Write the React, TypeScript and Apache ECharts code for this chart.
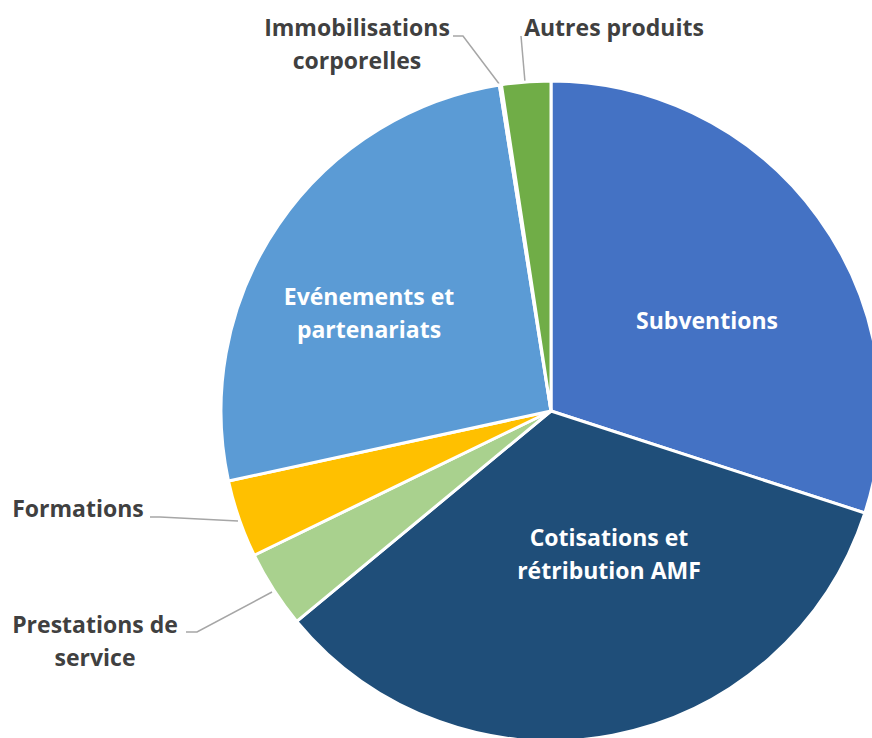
import React, { useEffect, useRef } from "react";
import * as echarts from "echarts";

const categories = [
  "Subventions",
  "Cotisations et rétribution AMF",
  "Prestations de service",
  "Formations",
  "Evénements et partenariats",
  "Immobilisations corporelles",
  "Autres produits",
];
const labelTexts = [
  "Subventions",
  "Cotisations et\nrétribution AMF",
  "Prestations de\nservice",
  "Formations",
  "Evénements et\npartenariats",
  "Immobilisations\ncorporelles",
  "Autres produits",
];
const values = [30.0, 34.0, 3.8, 3.8, 25.9, 0.1, 2.4];
const colors = ["#4472C4", "#1F4E79", "#A9D18E", "#FFC000", "#5B9BD5", "#264478", "#70AD47"];
const inside = [true, true, false, false, true, false, false];

// label layout (pixel positions of label anchors and leader lines)
const layouts: any[] = [
  { x: 707, y: 320, align: "center", verticalAlign: "middle" },
  { x: 609, y: 553, align: "center", verticalAlign: "middle" },
  { x: 95, y: 640, align: "center", verticalAlign: "middle", labelLinePoints: [[272, 592], [197, 632], [186, 632]] },
  { x: 78, y: 508, align: "center", verticalAlign: "middle", labelLinePoints: [[238, 521], [160, 517], [150, 517]] },
  { x: 369, y: 312, align: "center", verticalAlign: "middle" },
  { x: 357, y: 43, align: "center", verticalAlign: "middle", labelLinePoints: [[500, 85], [463, 36], [453, 36]] },
  { x: 614, y: 27, align: "center", verticalAlign: "middle", labelLinePoints: [[525, 82], [521, 36], [521, 36]] },
];

export default function App() {
  const ref = useRef<HTMLDivElement>(null);
  useEffect(() => {
    if (!ref.current) return;
    const chart = echarts.init(ref.current, null, { renderer: "svg" });
    chart.setOption({
      animation: false,
      backgroundColor: "#ffffff",
      series: [
        {
          type: "pie",
          center: [551, 411],
          radius: 330,
          startAngle: 90,
          clockwise: true,
          avoidLabelOverlap: false,
          itemStyle: { borderColor: "#ffffff", borderWidth: 3 },
          labelLine: { show: true, lineStyle: { color: "#A6A6A6", width: 1.5 } },
          labelLayout: (params: any) => layouts[params.dataIndex],
          data: categories.map((name, i) => ({
            name,
            value: values[i],
            itemStyle: { color: colors[i] },
            label: {
              show: true,
              position: inside[i] ? "inside" : "outside",
              formatter: () => labelTexts[i],
              color: inside[i] ? "#ffffff" : "#404040",
              fontFamily: "Open Sans",
              fontWeight: "bold",
              fontSize: 23,
              lineHeight: 33,
            },
            labelLine: { show: !inside[i] },
          })),
        },
      ],
    });
    return () => chart.dispose();
  }, []);
  return (
    <div
      ref={ref}
      style={{ position: "fixed", left: 0, top: 0, width: 872, height: 738, background: "#fff" }}
    />
  );
}
